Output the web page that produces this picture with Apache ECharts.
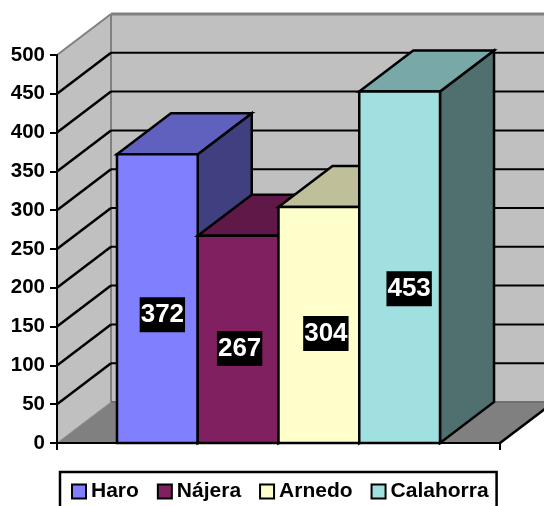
<!DOCTYPE html>
<html><head><meta charset="utf-8">
<style>html,body{margin:0;padding:0;background:#fff;overflow:hidden}#c{width:544px;height:506px}</style>
<script src="https://cdn.jsdelivr.net/npm/echarts@6/dist/echarts.min.js"></script>
</head><body><div id="c"></div>
<script>
const categories = [''];
const seriesNames = ['Haro', 'Nájera', 'Arnedo', 'Calahorra'];
const seriesValues = [372, 267, 304, 453];
const gridTicks = [50, 100, 150, 200, 250, 300, 350, 400, 450];
const frontColors = ['#8080FF', '#802060', '#FFFFCC', '#A0E0E0'];
const topColors = ['#6060BF', '#601848', '#BFBF99', '#78A8A8'];
const sideColors = ['#404080', '#401030', '#808066', '#507070'];
const labelNudge = [[5, 16], [1.5, 9], [7, 8.5], [9.5, 21.5]];

const DX = 54, DY = -41, BAR_FRACTION = 0.1823;
const FONT = '"Liberation Sans", Arial, sans-serif';
const chart = echarts.init(document.getElementById('c'), null, {renderer: 'canvas'});

function poly(points, fill, stroke, lw) {
  return {type: 'polygon', shape: {points}, style: {fill, stroke: stroke || 'none', lineWidth: lw || 0, lineJoin: 'miter'}};
}
function line(a, b, stroke, lw) {
  return {type: 'line', shape: {x1: a[0], y1: a[1], x2: b[0], y2: b[1]}, style: {stroke, lineWidth: lw}};
}
function wallsItem(params, api) {
  const band = api.size([1, 0])[0];
  const c = api.coord([0, 0]);
  const t = api.coord([0, 500]);
  const l = c[0] - band / 2, r = c[0] + band / 2, b = c[1], u = t[1];
  return {type: 'group', children: [
    poly([[l + DX, u + DY], [r + DX, u + DY], [r + DX, b + DY], [l + DX, b + DY]], '#C0C0C0'),
    poly([[l, u], [l + DX, u + DY], [l + DX, b + DY], [l, b]], '#C0C0C0'),
    poly([[l, b], [r, b], [r + DX, b + DY], [l + DX, b + DY]], '#808080'),
    line([l, u], [l + DX, u + DY], '#808080', 2),
    line([l + DX, u + DY], [r + DX, u + DY], '#808080', 3),
    line([l + DX, u + DY], [l + DX, b + DY], '#808080', 2),
    line([l + DX, b + DY], [r + DX, b + DY], '#707070', 2),
    line([l, b], [l + DX, b + DY], '#909090', 1),
    line([r, b], [r + DX, b + DY], '#000', 2.5)
  ]};
}
function gridItem(params, api) {
  const band = api.size([1, 0])[0];
  const p = api.coord([0, api.value(0)]);
  const l = p[0] - band / 2, r = p[0] + band / 2 + DX, y = p[1];
  return {type: 'group', children: [
    line([l, y], [l + DX, y + DY], '#000', 2.5),
    line([l + DX, y + DY], [r, y + DY], '#000', 2)
  ]};
}
function barItem(idx) {
  return function (params, api) {
    const band = api.size([1, 0])[0];
    const w = band * BAR_FRACTION;
    const top = api.coord([0, api.value(1)]);
    const base = api.coord([0, 0]);
    const x0 = top[0] + (idx - 2) * w, x1 = x0 + w, yt = top[1], yb = base[1];
    const s = '#000';
    return {type: 'group', children: [
      poly([[x1, yb], [x1 + DX, yb + DY], [x1 + DX, yt + DY], [x1, yt]], sideColors[idx], s, 2.5),
      poly([[x0, yt], [x0 + DX, yt + DY], [x1 + DX, yt + DY], [x1, yt]], topColors[idx], s, 2.5),
      poly([[x0, yb], [x1, yb], [x1, yt], [x0, yt]], frontColors[idx], s, 2.5),
      {type: 'text', z2: 100, style: {
        text: String(api.value(1)), x: (x0 + x1) / 2 + labelNudge[idx][0], y: (yt + yb) / 2 + labelNudge[idx][1],
        fill: '#fff', align: 'center', verticalAlign: 'middle',
        font: 'bold 26px ' + FONT, backgroundColor: '#000', padding: [5, 1, 4, 1]
      }}
    ]};
  };
}

const series = [
  {type: 'custom', name: '_walls', coordinateSystem: 'cartesian2d', clip: false, silent: true, z: 1,
   data: [[0, 0]], encode: {x: 0, y: 1}, renderItem: wallsItem},
  {type: 'custom', name: '_grid', coordinateSystem: 'cartesian2d', clip: false, silent: true, z: 1,
   data: gridTicks.map(v => [v]), encode: {y: 0}, renderItem: gridItem}
];
seriesNames.forEach((name, i) => series.push({
  type: 'custom', name, coordinateSystem: 'cartesian2d', clip: false, z: 3 + i,
  itemStyle: {color: frontColors[i]},
  data: [[0, seriesValues[i]]], encode: {x: 0, y: 1}, renderItem: barItem(i)
}));

chart.setOption({
  animation: false,
  backgroundColor: '#fff',
  grid: {left: 57, top: 55, width: 443, height: 388, containLabel: false},
  legend: {
    data: seriesNames, left: 60, top: 472, orient: 'horizontal',
    icon: 'rect', itemWidth: 14, itemHeight: 14, itemGap: 18,
    padding: [9, 8, 12, 11], borderColor: '#000', borderWidth: 2.5, backgroundColor: '#fff',
    selectedMode: false,
    itemStyle: {borderColor: '#000', borderWidth: 2},
    textStyle: {fontFamily: FONT, fontWeight: 'bold', fontSize: 21, color: '#000'}
  },
  xAxis: {
    type: 'category', data: categories, z: 10,
    axisLine: {lineStyle: {color: '#000', width: 2}},
    axisTick: {show: true, length: 7, lineStyle: {color: '#000', width: 2}},
    axisLabel: {show: false}, splitLine: {show: false}
  },
  yAxis: {
    type: 'value', min: 0, max: 500, interval: 50, z: 10,
    axisLine: {show: true, lineStyle: {color: '#000', width: 2}},
    axisTick: {show: true, length: 7, lineStyle: {color: '#000', width: 2}},
    axisLabel: {fontFamily: FONT, fontWeight: 'bold', fontSize: 20.5, color: '#000', margin: 12},
    splitLine: {show: false}
  },
  series
});
</script></body></html>
